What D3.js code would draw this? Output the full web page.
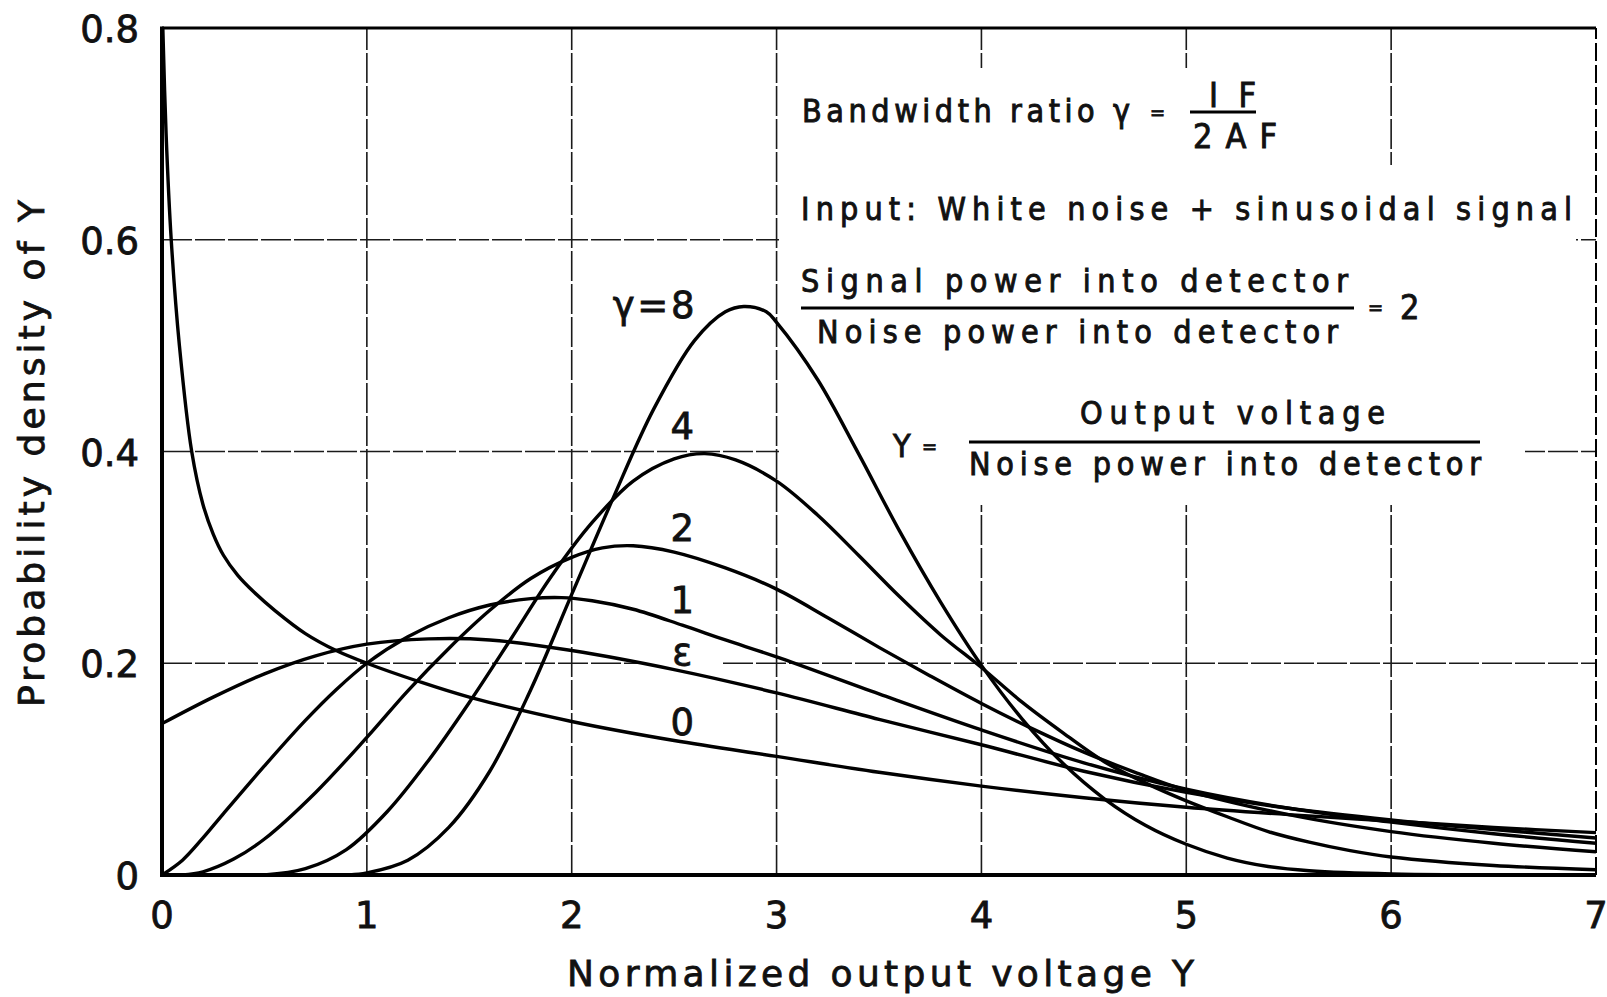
<!DOCTYPE html>
<html>
<head>
<meta charset="utf-8">
<script src="https://cdn.jsdelivr.net/npm/d3@7"></script>
<style>
    body { margin: 0; background: #fff; }
    svg { display: block; }
    text { fill: #111; stroke: #111; stroke-width: 0.8px; font-family: "DejaVu Sans", sans-serif; }
    .note text { font-family: "DejaVu Sans Condensed", "DejaVu Sans", sans-serif; font-size: 32px; stroke-width: 0.9px; }
</style>
</head>
<body>
<div id="chart"></div>
<script>
// tick values / labels
const xTicks = [0, 1, 2, 3, 4, 5, 6, 7];
const yTicks = [0, 0.2, 0.4, 0.6, 0.8];
const yTickLabels = ['0', '0.2', '0.4', '0.6', '0.8'];

// curves, [Y, density]
const gamma0 = [[0.004, 0.8], [0.02, 0.7], [0.045, 0.6], [0.085, 0.5], [0.145, 0.4], [0.2, 0.35], [0.25, 0.322],
    [0.3, 0.302], [0.37, 0.283], [0.45, 0.267], [0.55, 0.25], [0.7, 0.228], [0.85, 0.212], [1, 0.2], [1.25, 0.183],
    [1.5, 0.168], [2, 0.145], [2.5, 0.127], [3, 0.112], [3.5, 0.097], [4, 0.084], [4.5, 0.073], [5, 0.064],
    [5.5, 0.057], [6, 0.051], [6.5, 0.045], [7, 0.040]];
const gammaEps = [[0, 0.143], [0.25, 0.168], [0.5, 0.19], [0.75, 0.207], [1, 0.218], [1.3, 0.223], [1.6, 0.222],
    [2, 0.212], [2.5, 0.194], [3, 0.172], [3.5, 0.147], [4, 0.123], [4.5, 0.098], [5, 0.078], [5.5, 0.063],
    [6, 0.052], [6.5, 0.043], [7, 0.035]];
const gamma1 = [[0, 0], [0.1, 0.014], [0.2, 0.035], [0.3, 0.058], [0.5, 0.103], [0.7, 0.146], [0.85, 0.175],
    [1, 0.2], [1.2, 0.225], [1.4, 0.243], [1.6, 0.255], [1.8, 0.261], [1.95, 0.262], [2.1, 0.259], [2.3, 0.251],
    [2.54, 0.236], [2.75, 0.222], [3, 0.206], [3.5, 0.171], [4, 0.137], [4.5, 0.106], [5, 0.081], [5.5, 0.063],
    [6, 0.05], [6.5, 0.039], [7, 0.030]];
const gamma2 = [[0, 0], [0.1, 0], [0.2, 0.003], [0.35, 0.015], [0.5, 0.034], [0.75, 0.078], [1, 0.13], [1.2, 0.174],
    [1.4, 0.214], [1.6, 0.25], [1.8, 0.28], [2, 0.3], [2.15, 0.309], [2.3, 0.311], [2.5, 0.305], [2.75, 0.29],
    [3, 0.27], [3.25, 0.243], [3.5, 0.215], [3.75, 0.188], [4, 0.162], [4.25, 0.138], [4.5, 0.116], [4.75, 0.097],
    [5, 0.08], [5.5, 0.057], [6, 0.041], [6.5, 0.03], [7, 0.022]];
const gamma4 = [[0, 0], [0.5, 0], [0.7, 0.006], [0.9, 0.024], [1.1, 0.06], [1.3, 0.108], [1.5, 0.163], [1.7, 0.222],
    [1.9, 0.282], [2.1, 0.333], [2.3, 0.372], [2.5, 0.393], [2.65, 0.398], [2.8, 0.392], [3, 0.372], [3.2, 0.34],
    [3.4, 0.302], [3.6, 0.263], [3.8, 0.227], [4, 0.196], [4.2, 0.163], [4.4, 0.134], [4.6, 0.107], [4.8, 0.087],
    [5, 0.07], [5.2, 0.055], [5.4, 0.041], [5.6, 0.031], [5.8, 0.023], [6, 0.017], [6.5, 0.009], [7, 0.005]];
const gamma8 = [[0, 0], [0.9, 0], [1, 0.002], [1.2, 0.014], [1.4, 0.045], [1.6, 0.098], [1.8, 0.175], [2, 0.265],
    [2.2, 0.355], [2.4, 0.44], [2.6, 0.505], [2.75, 0.532], [2.84, 0.537], [2.95, 0.532], [3, 0.522], [3.2, 0.468],
    [3.4, 0.398], [3.6, 0.325], [3.8, 0.258], [4, 0.198], [4.2, 0.147], [4.4, 0.105], [4.6, 0.072], [4.8, 0.047],
    [5, 0.029], [5.2, 0.016], [5.4, 0.008], [5.6, 0.004], [6, 0.001], [7, 0]];

const series = [gamma0, gammaEps, gamma1, gamma2, gamma4, gamma8];
const seriesNames = ['0', '\u03b5', '1', '2', '4', '\u03b3=8'];

const width = 1607;
const height = 997;

const x = d3.scaleLinear().domain([0, 7]).range([162, 1596]);
const y = d3.scaleLinear().domain([0, 0.8]).range([875, 28]);

const svg = d3.select('#chart')
    .append('svg')
    .attr('width', width)
    .attr('height', height);

svg.append('defs').append('clipPath').attr('id', 'plot')
    .append('rect')
    .attr('x', x(0)).attr('y', y(0.8))
    .attr('width', x(7) - x(0)).attr('height', y(0) - y(0.8));

// grid
const grid = svg.append('g')
    .attr('stroke', '#1a1a1a')
    .attr('stroke-width', 1.6)
    .attr('stroke-dasharray', '30,3');

grid.selectAll('.vx')
    .data(xTicks.slice(1, -1))
    .enter()
    .append('line')
    .attr('x1', d => x(d)).attr('x2', d => x(d))
    .attr('y1', y(0)).attr('y2', y(0.8));

grid.selectAll('.hy')
    .data(yTicks.slice(1, -1))
    .enter()
    .append('line')
    .attr('x1', x(0)).attr('x2', x(7))
    .attr('y1', d => y(d)).attr('y2', d => y(d));

// the lettered notes sit on white paper that hides the grid
const paper = [[790, 68, 510, 437], [779, 165, 797, 275], [779, 440, 746, 65]];
svg.append('g').selectAll('rect')
    .data(paper)
    .enter()
    .append('rect')
    .attr('x', d => d[0]).attr('y', d => d[1])
    .attr('width', d => d[2]).attr('height', d => d[3])
    .attr('fill', '#fff');

// frame
svg.append('line').attr('x1', x(0)).attr('x2', x(0)).attr('y1', y(0) + 2).attr('y2', y(0.8) - 1.5)
    .attr('stroke', '#000').attr('stroke-width', 4);
svg.append('line').attr('x1', x(0) - 2).attr('x2', x(7)).attr('y1', y(0)).attr('y2', y(0))
    .attr('stroke', '#000').attr('stroke-width', 4);
svg.append('line').attr('x1', x(0)).attr('x2', x(7)).attr('y1', y(0.8)).attr('y2', y(0.8))
    .attr('stroke', '#000').attr('stroke-width', 3);
svg.append('line').attr('x1', x(7)).attr('x2', x(7)).attr('y1', y(0)).attr('y2', y(0.8))
    .attr('stroke', '#000').attr('stroke-width', 2).attr('stroke-dasharray', '18,4');

// curve labels, with a little white behind each
const labelPos = [[2.54, 0.132, 6], [2.54, 0.198, 28], [2.54, 0.247, 6], [2.54, 0.315, 6], [2.54, 0.412, 6], [2.4, 0.526, 6]];
const labels = svg.append('g').attr('font-size', 37).attr('text-anchor', 'middle');
seriesNames.forEach((name, i) => {
    const p = labelPos[i];
    const t = labels.append('text')
        .attr('x', x(p[0]))
        .attr('y', y(p[1]))
        .text(name);
    if (name.length > 1) t.attr('textLength', 82).attr('lengthAdjust', 'spacing');
    const b = t.node().getBBox();
    labels.insert('rect', 'text')
        .attr('x', b.x - p[2]).attr('y', b.y + 4)
        .attr('width', b.width + 2 * p[2]).attr('height', b.height - 8)
        .attr('fill', '#fff');
});

// curves
const line = d3.line()
    .x(d => x(d[0]))
    .y(d => y(d[1]))
    .curve(d3.curveCatmullRom.alpha(0.5));

svg.append('g')
    .attr('clip-path', 'url(#plot)')
    .selectAll('path')
    .data(series)
    .enter()
    .append('path')
    .attr('d', line)
    .attr('fill', 'none')
    .attr('stroke', '#000')
    .attr('stroke-width', 3.4)
    .attr('stroke-linejoin', 'round');

// notes
const notes = svg.append('g').attr('class', 'note');
const note = (txt, x0, y0, len, size) => {
    const t = notes.append('text').attr('x', x0).attr('y', y0).text(txt);
    if (len) t.attr('textLength', len).attr('lengthAdjust', 'spacing');
    if (size) t.style('font-size', size + 'px');
    return t;
};
const bar = (x1, x2, yy) => notes.append('line')
    .attr('x1', x1).attr('x2', x2).attr('y1', yy).attr('y2', yy)
    .attr('stroke', '#000').attr('stroke-width', 3);

note('Bandwidth ratio \u03b3', 802, 122, 328);
note('=', 1150, 119, 0, 20);
note('I F', 1209, 107, 47, 34);
bar(1190, 1256, 112);
note('2AF', 1193, 148, 84, 34);

note('Input:  White noise + sinusoidal signal', 801, 220, 771);

note('Signal power into detector', 801, 292, 547);
bar(801, 1354, 308);
note('Noise power into detector', 817, 343, 521);
note('=', 1368, 314, 0, 20);
note('2', 1400, 319, 0, 34);

note('Y', 893, 457);
note('=', 922, 453, 0, 20);
note('Output voltage', 1080, 424, 305);
bar(969, 1480, 442);
note('Noise power into detector', 969, 475, 512);

// tick labels
svg.append('g').attr('font-size', 37).attr('text-anchor', 'middle')
    .selectAll('text')
    .data(xTicks)
    .enter()
    .append('text')
    .attr('x', d => x(d))
    .attr('y', 928)
    .text(d => d);

svg.append('g').attr('font-size', 37).attr('text-anchor', 'end')
    .selectAll('text')
    .data(yTicks)
    .enter()
    .append('text')
    .attr('x', 139)
    .attr('y', d => y(d) + 14)
    .text((d, i) => yTickLabels[i]);

// axis titles
svg.append('text')
    .attr('x', 567).attr('y', 986)
    .attr('font-size', 36)
    .attr('textLength', 627).attr('lengthAdjust', 'spacing')
    .text('Normalized output voltage Y');

svg.append('text')
    .attr('transform', 'translate(44,707) rotate(-90)')
    .attr('font-size', 36)
    .attr('textLength', 507).attr('lengthAdjust', 'spacing')
    .text('Probability density of Y');
</script>
</body>
</html>
